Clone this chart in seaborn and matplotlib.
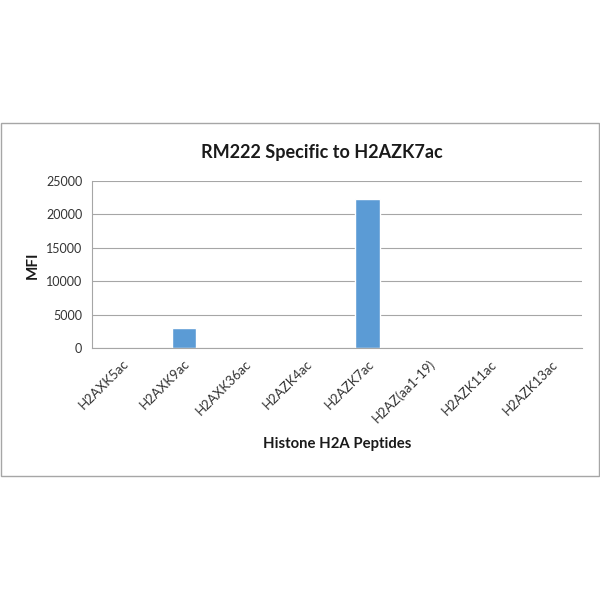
import matplotlib
matplotlib.use("Agg")
import matplotlib.pyplot as plt
import seaborn as sns
import pandas as pd
from matplotlib.patches import Rectangle

peptides = ["H2AXK5ac", "H2AXK9ac", "H2AXK36ac", "H2AZK4ac", "H2AZK7ac",
            "H2AZ(aa1-19)", "H2AZK11ac", "H2AZK13ac"]
mfi = [0, 3000, 0, 0, 22250, 0, 0, 0]
y_ticks = [0, 5000, 10000, 15000, 20000, 25000]

sns.set_theme(style="white")
plt.rcParams['font.family'] = ['Lato', 'DejaVu Sans']

df = pd.DataFrame({"Peptide": peptides, "MFI": mfi})

fig = plt.figure(figsize=(6, 6), dpi=100)
fig.patch.set_facecolor("white")
fig.patches.append(Rectangle((0.0015, 1 - 476 / 600), 0.997, (476 - 123) / 600,
                             transform=fig.transFigure, fill=False,
                             edgecolor="#a6a6a6", linewidth=1.0))

ax = fig.add_axes([92 / 600, 1 - 348 / 600, (582 - 92) / 600, (348 - 181) / 600])
sns.barplot(data=df, x="Peptide", y="MFI", color="#5B9BD5", width=0.4,
            saturation=1, ax=ax)

ax.set_ylim(0, 25000)
ax.set_xlim(-0.5, len(peptides) - 0.5)
ax.set_yticks(y_ticks)
ax.set_yticklabels([str(v) for v in y_ticks], fontsize=9, color="#333333")
ax.yaxis.grid(True, color="#a6a6a6", linewidth=0.8)
ax.set_axisbelow(True)

ax.set_xticks(range(len(peptides)))
ax.set_xticklabels(peptides, rotation=45, ha="right", rotation_mode="anchor",
                   fontsize=9.5, color="#333333")
ax.tick_params(axis="x", length=0, pad=7)
# boundary tick marks
ax.set_xticks([i - 0.5 for i in range(len(peptides) + 1)], minor=True)
ax.tick_params(axis="x", which="minor", length=4, color="#a6a6a6", direction="out")
ax.tick_params(axis="y", length=4, color="#a6a6a6", direction="out", pad=3)

for s in ["top", "right"]:
    ax.spines[s].set_visible(False)
for s in ["left", "bottom"]:
    ax.spines[s].set_color("#a6a6a6")
    ax.spines[s].set_linewidth(0.8)

ax.set_xlabel("")
ax.set_ylabel("")
fig.text(33 / 600, 1 - 265 / 600, "MFI", rotation=90, ha="center", va="center",
         fontsize=11, fontweight="bold", color="#1a1a1a")
fig.text(337 / 600, 1 - 444 / 600, "Histone H2A Peptides", ha="center", va="center",
         fontsize=10.7, fontweight="bold", color="#1a1a1a")
fig.text(322 / 600, 1 - 152 / 600, "RM222 Specific to H2AZK7ac", ha="center",
         va="center", fontsize=13, fontweight="bold", color="#1a1a1a")

fig.savefig("out.png", dpi=100, facecolor="white")
